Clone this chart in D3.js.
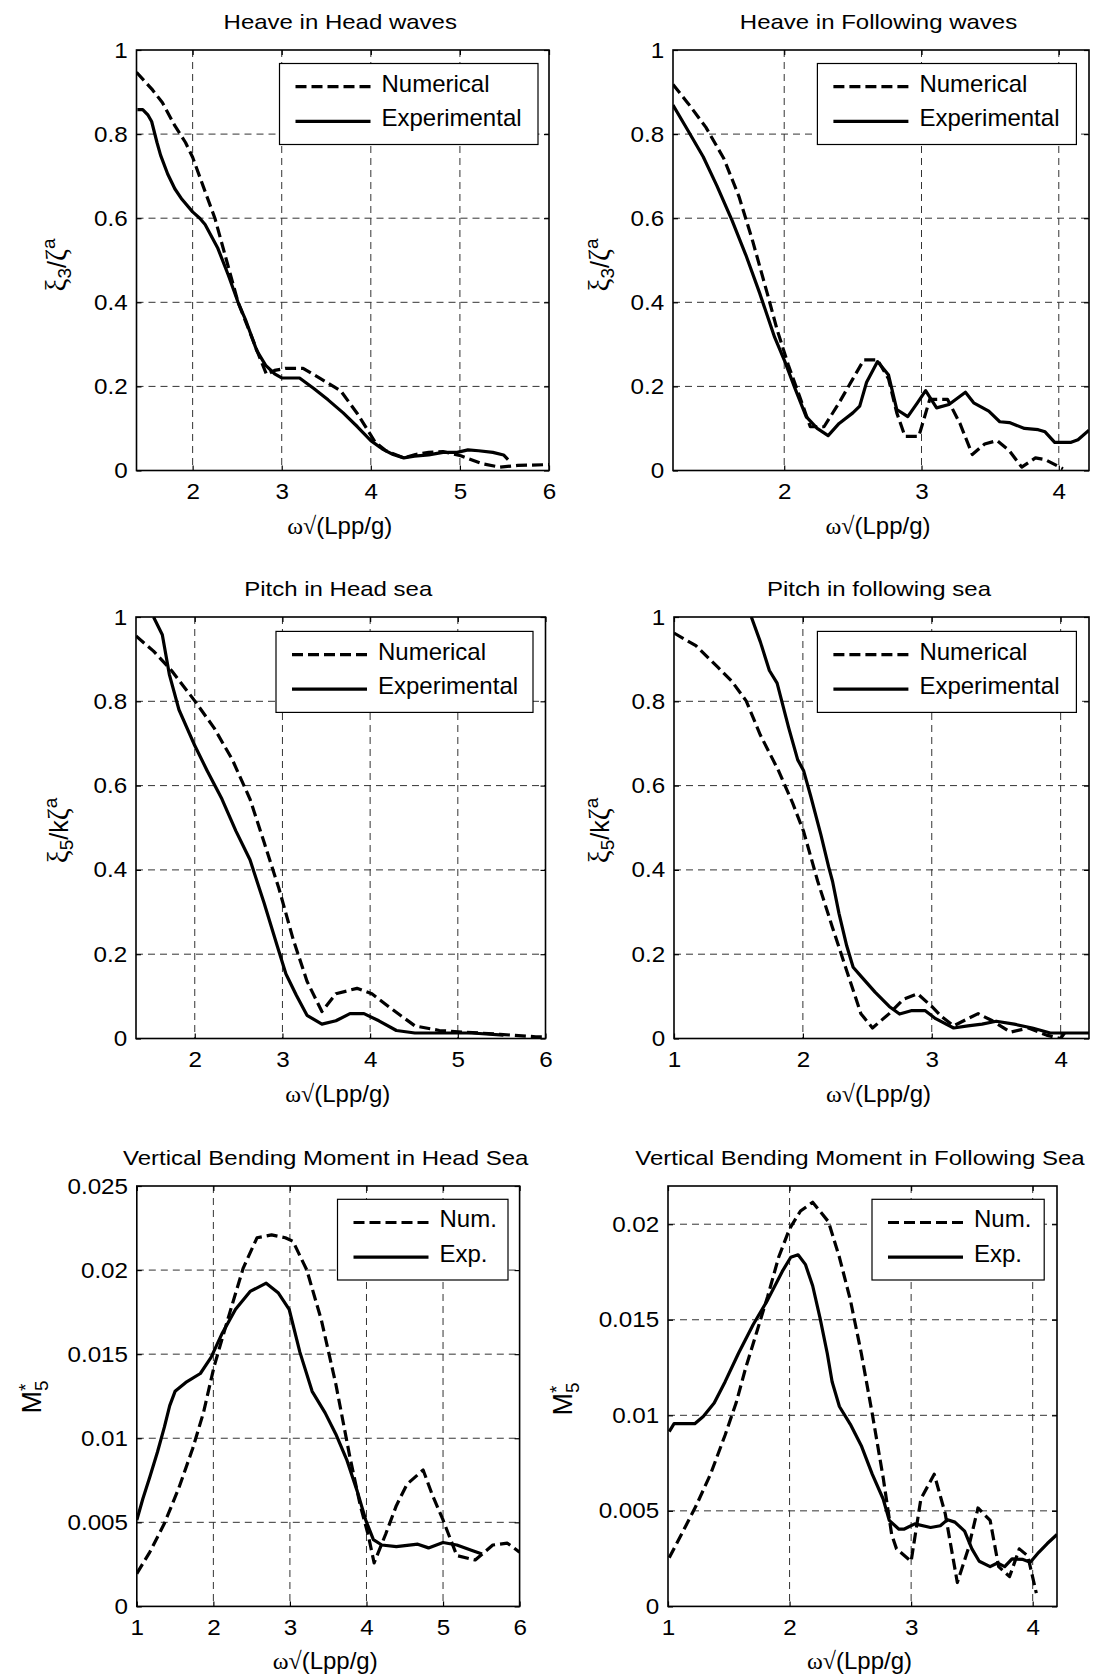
<!DOCTYPE html>
<html>
<head>
<meta charset="utf-8">
<script src="https://cdn.jsdelivr.net/npm/d3@7"></script>
<style>
  body { margin: 0; background: #fff; }
  svg { display: block; }
  text { font-family: "Liberation Sans", Arial, sans-serif; fill: #000; }
</style>
</head>
<body>
<svg id="chart" width="1106" height="1680"></svg>
<script>
// ---------------- DATA ----------------
const panelTitles = [
  "Heave in Head waves",
  "Heave in Following waves",
  "Pitch in Head sea",
  "Pitch in following sea",
  "Vertical Bending Moment in Head Sea",
  "Vertical Bending Moment in Following Sea"
];
const legendLong = ["Numerical", "Experimental"];
const legendShort = ["Num.", "Exp."];
const xAxisLabel = "(Lpp/g)";

// tick values / labels
const xTicksHead = [2, 3, 4, 5, 6];
const xTicksFollowHeave = [2, 3, 4];
const xTicksFollow = [1, 2, 3, 4];
const xTicksVbmHead = [1, 2, 3, 4, 5, 6];
const yTicksUnit = [0, 0.2, 0.4, 0.6, 0.8, 1];
const yTickLabelsUnit = ["0", "0.2", "0.4", "0.6", "0.8", "1"];
const yTicksVbmHead = [0, 0.005, 0.01, 0.015, 0.02, 0.025];
const yTickLabelsVbmHead = ["0", "0.005", "0.01", "0.015", "0.02", "0.025"];
const yTicksVbmFollow = [0, 0.005, 0.01, 0.015, 0.02];
const yTickLabelsVbmFollow = ["0", "0.005", "0.01", "0.015", "0.02"];

// axis ranges
const xRangeHeaveHead = [1.37, 6];
const xRangeHeaveFollow = [1.19, 4.22];
const xRangePitchHead = [1.33, 6];
const xRangePitchFollow = [1, 4.22];
const xRangeVbmHead = [1, 6];
const xRangeVbmFollow = [1, 4.2];
const yRangeUnit = [0, 1];
const yRangeVbmHead = [0, 0.025];
const yRangeVbmFollow = [0, 0.022];

// Heave in head waves
const heaveHeadNumX = [1.37,1.55,1.66,1.80,1.92,2.0,2.12,2.25,2.38,2.51,2.64,2.76,2.83,2.92,3.04,3.24,3.44,3.66,3.85,4.05,4.17,4.37,4.5,4.65,4.81,5.01,5.25,5.45,5.65,6.0];
const heaveHeadNumY = [0.947,0.905,0.875,0.82,0.78,0.745,0.675,0.6,0.5,0.4,0.33,0.265,0.228,0.238,0.243,0.243,0.218,0.19,0.135,0.067,0.047,0.03,0.038,0.043,0.045,0.035,0.016,0.008,0.012,0.014];
const heaveHeadExpX = [1.38,1.44,1.5,1.54,1.6,1.64,1.72,1.8,1.88,2.0,2.08,2.14,2.28,2.40,2.51,2.60,2.72,2.82,2.92,3.0,3.2,3.36,3.52,3.69,3.85,4.0,4.13,4.25,4.37,4.49,4.65,4.81,4.97,5.09,5.21,5.37,5.49,5.54];
const heaveHeadExpY = [0.858,0.858,0.845,0.83,0.78,0.75,0.705,0.67,0.645,0.615,0.6,0.585,0.53,0.465,0.4,0.355,0.285,0.25,0.23,0.22,0.22,0.195,0.168,0.137,0.104,0.071,0.051,0.038,0.03,0.034,0.037,0.043,0.043,0.049,0.047,0.043,0.037,0.026];

// Heave in following waves
const heaveFollowNumX = [1.19,1.30,1.43,1.56,1.67,1.77,1.875,1.95,2.03,2.11,2.19,2.29,2.40,2.50,2.58,2.68,2.76,2.82,2.88,2.98,3.06,3.19,3.28,3.37,3.46,3.55,3.64,3.73,3.83,3.90,4.03];
const heaveFollowNumY = [0.918,0.873,0.816,0.742,0.652,0.546,0.423,0.333,0.251,0.178,0.104,0.104,0.161,0.218,0.263,0.263,0.218,0.137,0.081,0.081,0.169,0.169,0.112,0.038,0.063,0.071,0.047,0.008,0.03,0.026,0.004];
const heaveFollowExpX = [1.19,1.30,1.41,1.51,1.62,1.72,1.82,1.93,2.005,2.08,2.16,2.24,2.32,2.40,2.50,2.55,2.60,2.68,2.76,2.82,2.90,2.97,3.03,3.11,3.20,3.32,3.38,3.49,3.57,3.64,3.75,3.85,3.90,3.97,4.09,4.14,4.22];
const heaveFollowExpY = [0.869,0.808,0.746,0.677,0.595,0.513,0.423,0.317,0.259,0.194,0.128,0.1,0.083,0.112,0.137,0.153,0.21,0.259,0.227,0.145,0.128,0.161,0.19,0.149,0.157,0.186,0.161,0.141,0.116,0.114,0.1,0.097,0.092,0.067,0.067,0.073,0.096];

// Pitch in head sea
const pitchHeadNumX = [1.33,1.53,1.735,2.0,2.22,2.43,2.63,2.79,2.96,3.12,3.28,3.45,3.61,3.85,4.02,4.26,4.51,4.79,5.08,5.48,5.89,6.0];
const pitchHeadNumY = [0.955,0.919,0.873,0.801,0.737,0.661,0.568,0.466,0.356,0.237,0.136,0.064,0.106,0.119,0.106,0.068,0.03,0.019,0.015,0.01,0.004,0.004];
const pitchHeadExpX = [1.53,1.63,1.71,1.82,2.0,2.14,2.31,2.47,2.63,2.79,2.94,3.04,3.16,3.28,3.45,3.61,3.77,3.93,4.10,4.30,4.51,4.79,5.16,5.52];
const pitchHeadExpY = [1.0,0.958,0.864,0.78,0.695,0.636,0.568,0.492,0.424,0.322,0.22,0.153,0.102,0.055,0.034,0.042,0.059,0.059,0.042,0.019,0.013,0.013,0.013,0.008];

// Pitch in following sea
const pitchFollowNumX = [1.0,1.17,1.34,1.45,1.56,1.67,1.81,1.92,2.005,2.115,2.23,2.34,2.45,2.54,2.67,2.78,2.89,3.0,3.08,3.17,3.28,3.36,3.47,3.61,3.75,3.89,4.0,4.03];
const pitchFollowNumY = [0.962,0.932,0.881,0.847,0.801,0.72,0.636,0.559,0.492,0.373,0.263,0.161,0.059,0.025,0.059,0.093,0.106,0.076,0.051,0.03,0.047,0.059,0.042,0.015,0.025,0.008,0.0,0.013];
const pitchFollowExpX = [1.60,1.67,1.74,1.80,1.89,1.96,2.005,2.06,2.14,2.20,2.23,2.28,2.34,2.39,2.45,2.56,2.67,2.75,2.84,2.95,3.03,3.17,3.28,3.39,3.50,3.64,3.78,3.92,4.06,4.22];
const pitchFollowExpY = [1.0,0.941,0.873,0.843,0.737,0.661,0.636,0.576,0.483,0.407,0.373,0.297,0.22,0.169,0.148,0.11,0.076,0.058,0.066,0.066,0.047,0.025,0.03,0.034,0.041,0.034,0.025,0.013,0.013,0.013];

// Vertical bending moment in head sea
const vbmHeadNumX = [1.0,1.17,1.36,1.55,1.73,1.87,2.01,2.20,2.39,2.57,2.76,2.94,3.04,3.22,3.41,3.60,3.78,3.92,4.02,4.10,4.25,4.39,4.53,4.74,4.86,5.0,5.18,5.42,5.65,5.84,6.0];
const vbmHeadNumY = [0.00195,0.00323,0.00493,0.00705,0.00939,0.01151,0.01427,0.01725,0.02012,0.02192,0.02209,0.02192,0.02171,0.02001,0.01704,0.01321,0.00896,0.00599,0.00429,0.00259,0.00429,0.00599,0.00727,0.00811,0.00663,0.00514,0.00302,0.00276,0.00365,0.00376,0.00323];
const vbmHeadExpX = [1.0,1.08,1.17,1.27,1.36,1.43,1.50,1.64,1.83,1.97,2.11,2.29,2.48,2.69,2.85,2.99,3.13,3.29,3.46,3.60,3.74,3.88,3.99,4.09,4.20,4.39,4.67,4.81,5.0,5.18,5.37,5.51];
const vbmHeadExpY = [0.00514,0.00642,0.00769,0.00918,0.01066,0.01194,0.01279,0.01332,0.01385,0.01481,0.01619,0.01767,0.01873,0.01922,0.01863,0.01767,0.01512,0.01279,0.01151,0.01024,0.00875,0.00684,0.00514,0.00397,0.00365,0.00355,0.0037,0.00348,0.0038,0.00365,0.00334,0.00312];

// Vertical bending moment in following sea
const vbmFollowNumX = [1.01,1.11,1.23,1.35,1.47,1.56,1.64,1.73,1.82,1.91,2.0,2.09,2.19,2.32,2.41,2.50,2.59,2.68,2.77,2.84,2.88,3.0,3.08,3.19,3.28,3.38,3.47,3.55,3.65,3.72,3.81,3.89,3.96,4.03];
const vbmFollowNumY = [0.00255,0.00376,0.00525,0.00692,0.00897,0.01064,0.0125,0.01436,0.01622,0.01827,0.01976,0.02069,0.02115,0.02013,0.01827,0.01604,0.01325,0.01009,0.00674,0.00376,0.00301,0.00236,0.00562,0.00692,0.00487,0.00125,0.00301,0.00515,0.0045,0.00208,0.00156,0.00301,0.00264,0.00069];
const vbmFollowExpX = [1.01,1.05,1.22,1.29,1.38,1.47,1.58,1.70,1.82,1.94,2.01,2.07,2.13,2.19,2.25,2.31,2.35,2.41,2.50,2.59,2.68,2.77,2.82,2.90,2.94,3.03,3.16,3.24,3.30,3.36,3.44,3.50,3.56,3.65,3.71,3.77,3.83,3.92,3.98,4.05,4.12,4.2];
const vbmFollowExpY = [0.00915,0.00956,0.00956,0.00994,0.01064,0.01176,0.01325,0.01474,0.01604,0.01753,0.01827,0.0184,0.0179,0.01678,0.01511,0.01325,0.01176,0.01046,0.00953,0.00841,0.00692,0.00562,0.0045,0.00404,0.00404,0.00432,0.00413,0.00422,0.00454,0.00441,0.00394,0.00301,0.00236,0.00208,0.00227,0.00208,0.00249,0.00246,0.00231,0.00283,0.00329,0.00376];

// ---------------- PANEL TABLE (built from arrays above) ----------------
const panels = [
  {title: panelTitles[0], xDomain: xRangeHeaveHead, yDomain: yRangeUnit, xTicks: xTicksHead, yTicks: yTicksUnit, yLabels: yTickLabelsUnit,
   num: d3.zip(heaveHeadNumX, heaveHeadNumY), exp: d3.zip(heaveHeadExpX, heaveHeadExpY), legend: legendLong, ylab: "heave"},
  {title: panelTitles[1], xDomain: xRangeHeaveFollow, yDomain: yRangeUnit, xTicks: xTicksFollowHeave, yTicks: yTicksUnit, yLabels: yTickLabelsUnit,
   num: d3.zip(heaveFollowNumX, heaveFollowNumY), exp: d3.zip(heaveFollowExpX, heaveFollowExpY), legend: legendLong, ylab: "heave"},
  {title: panelTitles[2], xDomain: xRangePitchHead, yDomain: yRangeUnit, xTicks: xTicksHead, yTicks: yTicksUnit, yLabels: yTickLabelsUnit,
   num: d3.zip(pitchHeadNumX, pitchHeadNumY), exp: d3.zip(pitchHeadExpX, pitchHeadExpY), legend: legendLong, ylab: "pitch"},
  {title: panelTitles[3], xDomain: xRangePitchFollow, yDomain: yRangeUnit, xTicks: xTicksFollow, yTicks: yTicksUnit, yLabels: yTickLabelsUnit,
   num: d3.zip(pitchFollowNumX, pitchFollowNumY), exp: d3.zip(pitchFollowExpX, pitchFollowExpY), legend: legendLong, ylab: "pitch"},
  {title: panelTitles[4], xDomain: xRangeVbmHead, yDomain: yRangeVbmHead, xTicks: xTicksVbmHead, yTicks: yTicksVbmHead, yLabels: yTickLabelsVbmHead,
   num: d3.zip(vbmHeadNumX, vbmHeadNumY), exp: d3.zip(vbmHeadExpX, vbmHeadExpY), legend: legendShort, ylab: "vbm"},
  {title: panelTitles[5], xDomain: xRangeVbmFollow, yDomain: yRangeVbmFollow, xTicks: xTicksFollow, yTicks: yTicksVbmFollow, yLabels: yTickLabelsVbmFollow,
   num: d3.zip(vbmFollowNumX, vbmFollowNumY), exp: d3.zip(vbmFollowExpX, vbmFollowExpY), legend: legendShort, ylab: "vbm"}
];

// ---------------- LAYOUT ----------------
const layout = [
  {l: 136.5, r: 549,   t: 50,   b: 470.5},
  {l: 673,   r: 1089,  t: 50,   b: 470.5},
  {l: 136,   r: 545.5, t: 617,  b: 1038.5},
  {l: 674,   r: 1089,  t: 617,  b: 1038.5},
  {l: 136.8, r: 519.6, t: 1186, b: 1606.4},
  {l: 668,   r: 1057,  t: 1186, b: 1606.4}
];
const legendBoxes = [
  {x: 279.5, y: 63.5,   w: 258.5, h: 81},
  {x: 817.4, y: 63.5,   w: 259,   h: 81},
  {x: 276,   y: 631.4,  w: 257,   h: 81},
  {x: 817.4, y: 631.4,  w: 259,   h: 81},
  {x: 337.5, y: 1199.3, w: 170.5, h: 80.7},
  {x: 872,   y: 1199.3, w: 172.2, h: 80.7}
];
const yLabelPos = [
  {x: 66, y: 265}, {x: 609, y: 265},
  {x: 68, y: 830.5}, {x: 609, y: 830.5},
  {x: 41, y: 1397}, {x: 572, y: 1399}
];

const SANS = '"Liberation Sans", Arial, sans-serif';
const SERIF = '"Liberation Serif", "DejaVu Serif", serif';
const TICK_FS = 22, TICK_SX = 1.1;
const TITLE_FS = 20, TITLE_SX = 1.2;

const svg = d3.select("#chart");
svg.append("rect").attr("width", 1106).attr("height", 1680).attr("fill", "#fff");
const defs = svg.append("defs");

function drawPanel(i) {
  const P = panels[i], L = layout[i];
  const w = L.r - L.l, h = L.b - L.t;
  const x = d3.scaleLinear().domain(P.xDomain).range([0, w]);
  const y = d3.scaleLinear().domain(P.yDomain).range([h, 0]);
  const g = svg.append("g").attr("transform", `translate(${L.l},${L.t})`);

  defs.append("clipPath").attr("id", "clip" + i)
    .append("rect").attr("x", 0).attr("y", 0).attr("width", w).attr("height", h);

  // grid
  const gx = P.xTicks.filter(v => x(v) > 1 && x(v) < w - 1);
  const gy = P.yTicks.filter(v => y(v) > 1 && y(v) < h - 1);
  const grid = g.append("g").attr("stroke", "#333").attr("stroke-width", 1).attr("stroke-dasharray", "7,5");
  grid.selectAll("line.vx").data(gx).join("line").attr("class", "vx")
    .attr("x1", d => x(d)).attr("x2", d => x(d)).attr("y1", 0).attr("y2", h);
  grid.selectAll("line.hy").data(gy).join("line").attr("class", "hy")
    .attr("x1", 0).attr("x2", w).attr("y1", d => y(d)).attr("y2", d => y(d));

  // curves
  const line = d3.line().x(d => x(d[0])).y(d => y(d[1]));
  const cg = g.append("g").attr("clip-path", `url(#clip${i})`);
  cg.append("path").datum(P.num).attr("d", line)
    .attr("fill", "none").attr("stroke", "#000").attr("stroke-width", 3.2)
    .attr("stroke-dasharray", "11,5").attr("stroke-linejoin", "round");
  cg.append("path").datum(P.exp).attr("d", line)
    .attr("fill", "none").attr("stroke", "#000").attr("stroke-width", 3.2)
    .attr("stroke-linejoin", "round");

  // box
  g.append("rect").attr("width", w).attr("height", h)
    .attr("fill", "none").attr("stroke", "#000").attr("stroke-width", 1.6);

  // inward tick marks on all four sides
  const tickStyle = sel => { sel.select(".domain").remove(); sel.selectAll("line").attr("stroke", "#000").attr("stroke-width", 1.2); };
  g.append("g").attr("transform", `translate(0,${h})`).call(d3.axisBottom(x).tickValues(P.xTicks).tickSize(-5).tickFormat("")).call(tickStyle);
  g.append("g").call(d3.axisTop(x).tickValues(P.xTicks).tickSize(-5).tickFormat("")).call(tickStyle);
  g.append("g").call(d3.axisLeft(y).tickValues(P.yTicks).tickSize(-5).tickFormat("")).call(tickStyle);
  g.append("g").attr("transform", `translate(${w},0)`).call(d3.axisRight(y).tickValues(P.yTicks).tickSize(-5).tickFormat("")).call(tickStyle);

  // tick labels
  const xl = g.append("g").attr("transform", `translate(0,${h})`)
    .call(d3.axisBottom(x).tickValues(P.xTicks).tickFormat(d => String(d)).tickSize(0).tickPadding(13));
  xl.select(".domain").remove();
  xl.attr("font-size", TICK_FS).attr("font-family", SANS);
  xl.selectAll("text").attr("fill", "#000").attr("transform", `scale(${TICK_SX},1)`);

  const yl = g.append("g")
    .call(d3.axisLeft(y).tickValues(P.yTicks).tickFormat(d => P.yLabels[P.yTicks.indexOf(d)]).tickSize(0).tickPadding(8));
  yl.select(".domain").remove();
  yl.attr("font-size", TICK_FS).attr("font-family", SANS);
  yl.selectAll("text").attr("fill", "#000").attr("transform", `scale(${TICK_SX},1)`);

  // title
  svg.append("text")
    .attr("transform", `translate(${(L.l + L.r) / 2 - 2.5},${L.t - 21.5}) scale(${TITLE_SX},1)`)
    .attr("text-anchor", "middle").attr("font-size", TITLE_FS).attr("font-family", SANS)
    .text(P.title);

  // x label
  const xt = svg.append("text")
    .attr("x", (L.l + L.r) / 2 - 3).attr("y", L.b + 63)
    .attr("text-anchor", "middle").attr("font-size", 24).attr("font-family", SANS);
  xt.append("tspan").attr("font-family", SERIF).text("ω√");
  xt.append("tspan").text(xAxisLabel);

  // y label
  const yp = yLabelPos[i];
  const yt = svg.append("text")
    .attr("transform", `translate(${yp.x},${yp.y}) rotate(-90)`)
    .attr("text-anchor", "middle").attr("font-size", 25).attr("font-family", SANS);
  if (P.ylab === "vbm") {
    yt.append("tspan").attr("font-size", 27).text("M");
    yt.append("tspan").attr("font-size", 19).attr("dy", 7).text("5");
    yt.append("tspan").attr("font-size", 19).attr("dx", -10.5).attr("dy", -16).text("*");
  } else {
    yt.append("tspan").attr("font-family", SERIF).attr("font-size", 29).text("ξ");
    yt.append("tspan").attr("font-size", 19).attr("dy", 5).text(P.ylab === "heave" ? "3" : "5");
    yt.append("tspan").attr("dy", -5).text(P.ylab === "heave" ? "/" : "/k");
    yt.append("tspan").attr("font-family", SERIF).attr("font-size", 29).text("ζ");
    yt.append("tspan").attr("font-size", 19).attr("dy", -11).text("a");
  }

  // legend
  const B = legendBoxes[i];
  const lg = svg.append("g").attr("transform", `translate(${B.x},${B.y})`);
  lg.append("rect").attr("width", B.w).attr("height", B.h)
    .attr("fill", "#fff").attr("stroke", "#000").attr("stroke-width", 1.2);
  const rows = [23.2, 57.8];
  lg.append("line").attr("x1", 16).attr("x2", 91).attr("y1", rows[0]).attr("y2", rows[0])
    .attr("stroke", "#000").attr("stroke-width", 3.2).attr("stroke-dasharray", "11,5");
  lg.append("line").attr("x1", 16).attr("x2", 91).attr("y1", rows[1]).attr("y2", rows[1])
    .attr("stroke", "#000").attr("stroke-width", 3.2);
  lg.selectAll("text.lt").data(P.legend).join("text").attr("class", "lt")
    .attr("x", 102).attr("y", (d, j) => rows[j] + 5)
    .attr("font-size", 24).attr("font-family", SANS).text(d => d);
}

panels.forEach((p, i) => drawPanel(i));
</script>
</body>
</html>
